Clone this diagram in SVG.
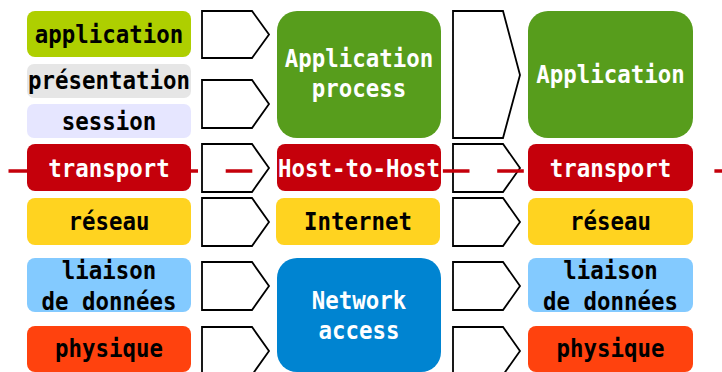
<svg xmlns="http://www.w3.org/2000/svg" width="722" height="372" viewBox="0 0 722 372">
<style>
text{font-family:"DejaVu Sans Mono","Liberation Mono",monospace;font-weight:bold;font-size:24px;text-anchor:middle}
.d{fill:#000}
.w{fill:#fff}
.arr{fill:#fff;stroke:#000;stroke-width:1.8;stroke-linejoin:miter}
.sep{fill:none;stroke:#c5000b;stroke-width:3.5;stroke-dasharray:26.6 27.7}
</style>
<rect width="722" height="372" fill="#fff"/>
<g id="connectors">
<polygon class="arr" points="202,11 252,11 269,34.5 252,58 202,58"/>
<polygon class="arr" points="202,80 252,80 269,104 252,128 202,128"/>
<polygon class="arr" points="202,144 252,144 269,168 252,192 202,192"/>
<polygon class="arr" points="202,198 252,198 269,222 252,246 202,246"/>
<polygon class="arr" points="202,262 252,262 269,286 252,310 202,310"/>
<polygon class="arr" points="202,327 252,327 269,351 252,375 202,375"/>
<polygon class="arr" points="453,11 503,11 520,75 503,138 453,138"/>
<polygon class="arr" points="453,144 503,144 520,168 503,192 453,192"/>
<polygon class="arr" points="453,198 503,198 520,222 503,246 453,246"/>
<polygon class="arr" points="453,262 503,262 520,286 503,310 453,310"/>
<polygon class="arr" points="453,327 503,327 520,351 503,375 453,375"/>
<line class="sep" x1="8.5" y1="171" x2="722" y2="171"/>
</g>
<g id="osi-application"><rect x="27" y="11" width="164" height="46" rx="8" fill="#aecf00"/><text class="d" x="109" y="42.5" textLength="148.3" lengthAdjust="spacingAndGlyphs">application</text></g>
<g id="osi-presentation"><rect x="27" y="64" width="164" height="34" rx="7" fill="#e6e6e6"/><text class="d" x="109" y="89" textLength="161.8" lengthAdjust="spacingAndGlyphs">présentation</text></g>
<g id="osi-session"><rect x="27" y="104" width="164" height="34" rx="7" fill="#e6e6ff"/><text class="d" x="109" y="129.5" textLength="94.4" lengthAdjust="spacingAndGlyphs">session</text></g>
<g id="osi-transport"><rect x="27" y="144" width="164" height="47" rx="8" fill="#c5000b"/><text class="w" x="109" y="176.5" textLength="121.3" lengthAdjust="spacingAndGlyphs">transport</text></g>
<g id="osi-reseau"><rect x="27" y="198" width="164" height="47" rx="8" fill="#ffd320"/><text class="d" x="109" y="230" textLength="80.9" lengthAdjust="spacingAndGlyphs">réseau</text></g>
<g id="osi-liaison"><rect x="27" y="258" width="164" height="54" rx="8" fill="#83caff"/><text class="d" x="109" y="278.5" textLength="94.4" lengthAdjust="spacingAndGlyphs">liaison</text><text class="d" x="109" y="309.5" textLength="134.8" lengthAdjust="spacingAndGlyphs">de données</text></g>
<g id="osi-physique"><rect x="27" y="326" width="164" height="46" rx="8" fill="#ff420e"/><text class="d" x="109" y="357" textLength="107.8" lengthAdjust="spacingAndGlyphs">physique</text></g>

<g id="tcp-application-process"><rect x="277" y="11" width="164" height="127" rx="20" fill="#579d1c"/><text class="w" x="359" y="67" textLength="148.3" lengthAdjust="spacingAndGlyphs">Application</text><text class="w" x="359" y="97" textLength="94.4" lengthAdjust="spacingAndGlyphs">process</text></g>
<g id="tcp-host-to-host"><rect x="277" y="144" width="164" height="47" rx="8" fill="#c5000b"/><text class="w" x="359" y="176.5" textLength="161.8" lengthAdjust="spacingAndGlyphs">Host-to-Host</text></g>
<g id="tcp-internet"><rect x="276" y="198" width="164" height="47" rx="8" fill="#ffd320"/><text class="d" x="358" y="230" textLength="107.8" lengthAdjust="spacingAndGlyphs">Internet</text></g>
<g id="tcp-network-access"><rect x="277" y="258" width="164" height="114" rx="20" fill="#0084d1"/><text class="w" x="359" y="308.5" textLength="94.4" lengthAdjust="spacingAndGlyphs">Network</text><text class="w" x="359" y="338.5" textLength="80.9" lengthAdjust="spacingAndGlyphs">access</text></g>

<g id="r-application"><rect x="528" y="11" width="165" height="127" rx="20" fill="#579d1c"/><text class="w" x="610.5" y="83" textLength="148.3" lengthAdjust="spacingAndGlyphs">Application</text></g>
<g id="r-transport"><rect x="528" y="144" width="165" height="47" rx="8" fill="#c5000b"/><text class="w" x="610.5" y="176.5" textLength="121.3" lengthAdjust="spacingAndGlyphs">transport</text></g>
<g id="r-reseau"><rect x="528" y="198" width="165" height="47" rx="8" fill="#ffd320"/><text class="d" x="610.5" y="230" textLength="80.9" lengthAdjust="spacingAndGlyphs">réseau</text></g>
<g id="r-liaison"><rect x="528" y="258" width="165" height="54" rx="8" fill="#83caff"/><text class="d" x="610.5" y="278.5" textLength="94.4" lengthAdjust="spacingAndGlyphs">liaison</text><text class="d" x="610.5" y="309.5" textLength="134.8" lengthAdjust="spacingAndGlyphs">de données</text></g>
<g id="r-physique"><rect x="528" y="326" width="165" height="46" rx="8" fill="#ff420e"/><text class="d" x="610.5" y="357" textLength="107.8" lengthAdjust="spacingAndGlyphs">physique</text></g>
</svg>
